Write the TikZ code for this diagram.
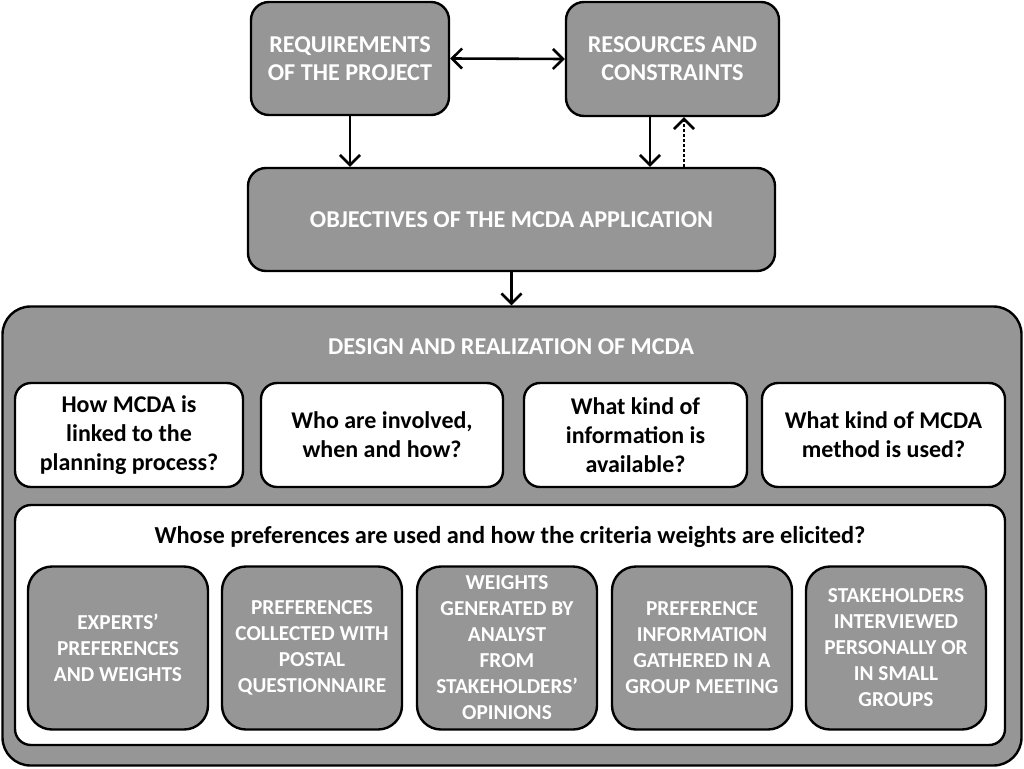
\documentclass[tikz,border=0pt]{standalone}
\usepackage{fontspec}
\setmainfont{Carlito}
\usetikzlibrary{arrows.meta}
\definecolor{boxgray}{HTML}{969696}
\tikzset{
  x=1pt, y=-1pt,
  barb/.tip={Straight Barb[length=10pt,width=20pt,line width=2.6pt]},
  graybox/.style={draw=black, line width=2.4pt, fill=boxgray, rounded corners=18pt, text=white, font=\bfseries\fontsize{24.2}{28}\selectfont, align=center, inner sep=0pt},
  whitebox/.style={draw=black, line width=2.4pt, fill=white, rounded corners=16pt, text=black, font=\bfseries\fontsize{24}{29}\selectfont, align=center, inner sep=0pt},
  smallgray/.style={draw=black, line width=2.4pt, fill=boxgray, rounded corners=24pt, text=white, font=\bfseries\fontsize{21.3}{26}\selectfont, align=center, inner sep=0pt, minimum width=180pt, minimum height=163pt},
  arr/.style={line width=2.6pt, -barb},
}
\begin{document}
\begin{tikzpicture}
\useasboundingbox (0,0) rectangle (1024,768);
% top boxes
\node[graybox, minimum width=198pt, minimum height=113pt] (req) at (350,58.5) {REQUIREMENTS\\OF THE PROJECT};
\node[graybox, minimum width=213pt, minimum height=114pt] (res) at (672.5,59) {RESOURCES AND\\CONSTRAINTS};
\node[graybox, minimum width=527pt, minimum height=103pt] (obj) at (511.5,219.5) {OBJECTIVES OF THE MCDA APPLICATION};
% big container
\node[graybox, rounded corners=28pt, minimum width=1019pt, minimum height=459pt] (design) at (512,536) {};
\node[text=white, font=\bfseries\fontsize{24.2}{28}\selectfont, inner sep=0pt] (dtitle) at (511,347) {DESIGN AND REALIZATION OF MCDA};
% question boxes
\node[whitebox, minimum width=228pt, minimum height=104pt] (q1) at (129,435) {How MCDA is\\linked to the\\planning process?};
\node[whitebox, minimum width=242pt, minimum height=104pt] (q2) at (382,435) {Who are involved,\\when and how?};
\node[whitebox, minimum width=223pt, minimum height=104pt] (q3) at (635.5,435) {What kind of\\information is\\available?};
\node[whitebox, minimum width=243pt, minimum height=104pt] (q4) at (883.5,435) {What kind of MCDA\\method is used?};
% preference container
\node[whitebox, minimum width=990pt, minimum height=240pt] (pref) at (510,625) {};
\node[font=\bfseries\fontsize{24.4}{29}\selectfont, inner sep=0pt] (ptitle) at (510,537) {Whose preferences are used and how the criteria weights are elicited?};
% bottom boxes
\node[smallgray] (b1) at (118,648) {EXPERTS'\\PREFERENCES\\AND WEIGHTS};
\node[smallgray] (b2) at (312,648) {PREFERENCES\\COLLECTED WITH\\POSTAL\\QUESTIONNAIRE};
\node[smallgray] (b3) at (507,648) {WEIGHTS\\GENERATED BY\\ANALYST\\FROM\\STAKEHOLDERS'\\OPINIONS};
\node[smallgray] (b4) at (702,648) {PREFERENCE\\INFORMATION\\GATHERED IN A\\GROUP MEETING};
\node[smallgray] (b5) at (896,648) {STAKEHOLDERS\\INTERVIEWED\\PERSONALLY OR\\IN SMALL\\GROUPS};
% connectors
\draw[line width=2.6pt, barb-barb] (req.east) -- (res.west);
\draw[arr] (req.south) -- (req.south |- obj.north);
\coordinate (resdown) at (650,0);
\coordinate (resup) at (684,0);
\draw[arr] (resdown |- res.south) -- (resdown |- obj.north);
\draw[arr, dash pattern=on 2.6pt off 2.4pt] (resup |- obj.north) -- (resup |- res.south);
\draw[arr] (obj.south) -- (obj.south |- design.north);
\end{tikzpicture}
\end{document}
